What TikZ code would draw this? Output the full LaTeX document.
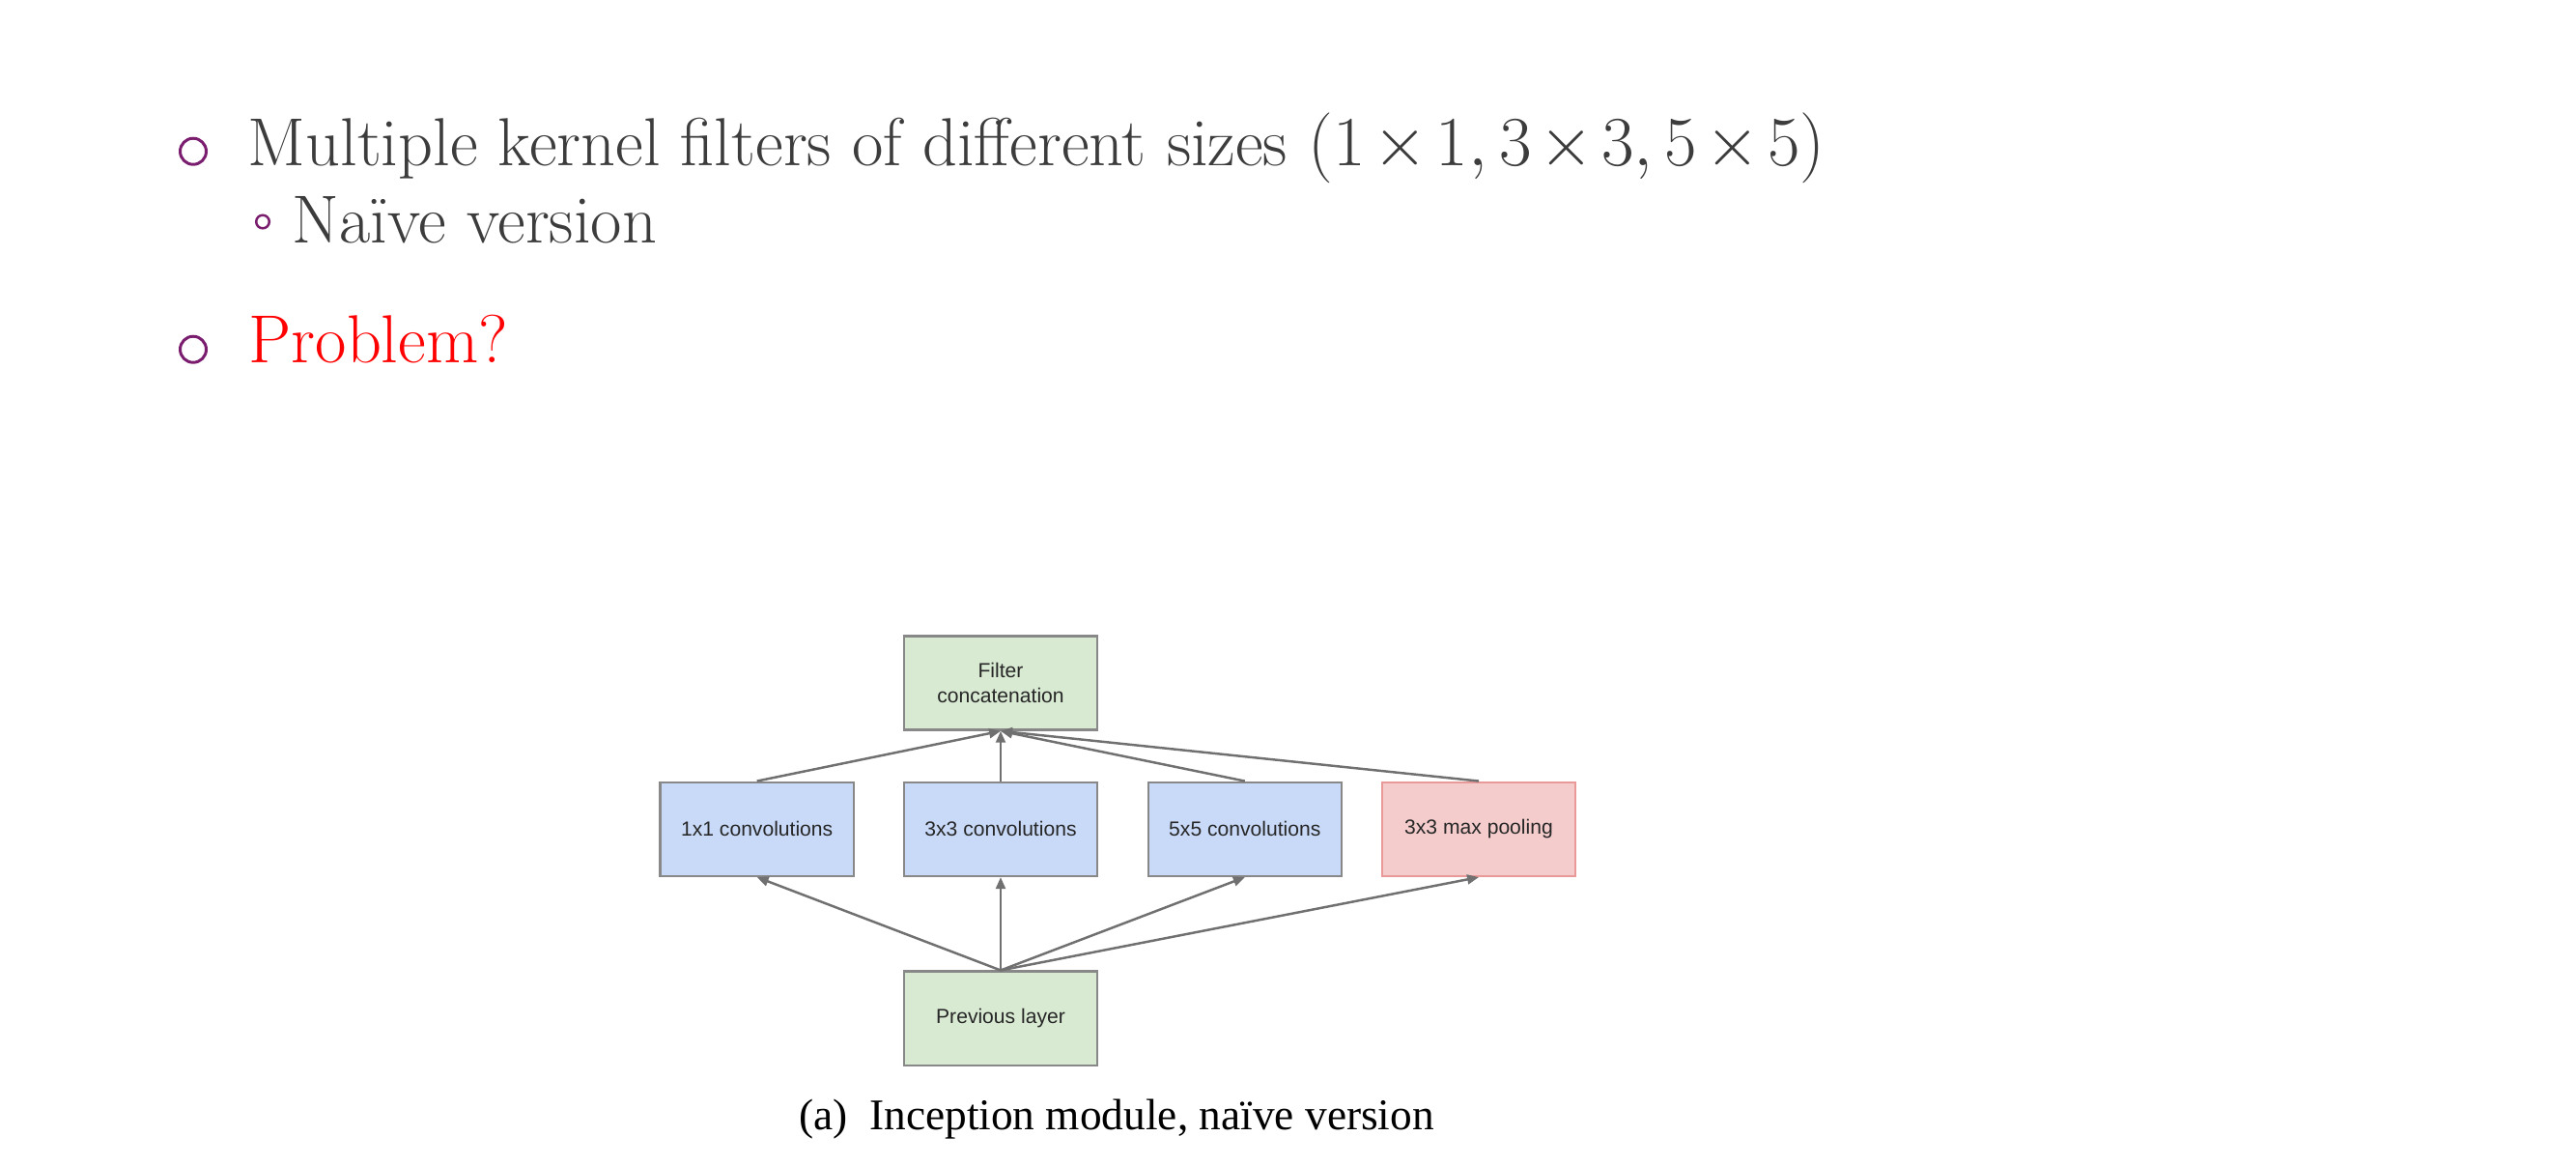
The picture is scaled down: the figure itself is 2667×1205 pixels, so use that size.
\documentclass[tikz,border=0pt]{standalone}
\usepackage{fontspec}
\usetikzlibrary{arrows.meta}
\newfontfamily\boxfont{Liberation Sans}
\newfontfamily\capfont{Liberation Serif}
\definecolor{textgray}{HTML}{3C3C3C}
\definecolor{bulletpurple}{RGB}{122,29,110}
\definecolor{boxgreen}{HTML}{D9EAD3}
\definecolor{boxblue}{HTML}{C9DAF8}
\definecolor{boxred}{HTML}{F4CCCC}
\definecolor{edgered}{HTML}{EA9999}
\definecolor{edgegray}{HTML}{888888}
\definecolor{arrowgray}{HTML}{707070}
\tikzset{
  layerbox/.style={draw=edgegray, line width=0.7pt, minimum width=2cm, minimum height=0.97cm,
    inner sep=0pt, align=center, font=\boxfont\fontsize{6}{7.2}\selectfont, text=black!85},
  flow/.style={draw=arrowgray, line width=0.7pt, -{Triangle[length=3.4pt,width=2.8pt]}},
  slidetext/.style={anchor=base west, inner sep=0pt, text=textgray,
    font=\fontsize{20}{24}\selectfont}
}
\begin{document}
\begin{tikzpicture}[x=0.01cm,y=-0.01cm]
\useasboundingbox (0,0) rectangle (2667,1205);

% 要点文字
\draw[bulletpurple, line width=0.85pt] (200,156.7) circle (13.5);
\node[slidetext] (line1) at (256,171.7) {Multiple kernel filters of different sizes
  $(1{\mkern2mu\times\mkern2mu}1, 3{\mkern2mu\times\mkern2mu}3, 5{\mkern2mu\times\mkern2mu}5)$};
\draw[bulletpurple, line width=0.7pt] (272,229.5) circle (6.8);
\node[slidetext] (line2) at (301.7,251.7) {Naïve version};
\draw[bulletpurple, line width=0.85pt] (200,361.7) circle (13.5);
\node[slidetext, text=red] (line3) at (257,375) {Problem?};

% 各层方框
\node[layerbox, fill=boxgreen] (concat) at (1036,707) {Filter\\concatenation};
\node[layerbox, fill=boxblue] (c1) at (783.7,858.3) {1x1 convolutions};
\node[layerbox, fill=boxblue] (c3) at (1036,858.3) {3x3 convolutions};
\node[layerbox, fill=boxblue] (c5) at (1288.8,858.3) {5x5 convolutions};
\node[layerbox, fill=boxred, draw=edgered] (pool) at (1531,858.3) {3x3 max pooling};
\node[layerbox, fill=boxgreen] (prev) at (1036,1054.2) {Previous layer};

% 连线
\draw[flow] (prev.north) -- (c1.south);
\draw[flow] (prev.north) -- (c3.south);
\draw[flow] (prev.north) -- (c5.south);
\draw[flow] (prev.north) -- (pool.south);
\draw[flow] (c1.north) -- (concat.south);
\draw[flow] (c3.north) -- (concat.south);
\draw[flow] (c5.north) -- (concat.south);
\draw[flow] (pool.north) -- (concat.south);

% 图注
\node[anchor=base, inner sep=0pt, font=\capfont\fontsize{12.9}{15}\selectfont] (caption) at (1156,1169)
  {(a)\ \ Inception module, naïve version};
\end{tikzpicture}
\end{document}
